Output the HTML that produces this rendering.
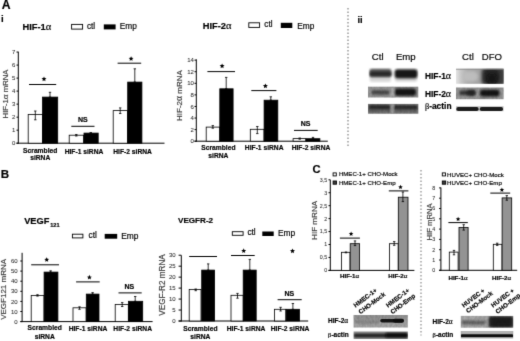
<!DOCTYPE html>
<html><head><meta charset="utf-8"><style>
html,body{margin:0;padding:0;background:#fff;}
body{width:520px;height:341px;overflow:hidden;}
svg{display:block;font-family:"Liberation Sans", sans-serif;will-change:transform;-webkit-font-smoothing:antialiased;}
text{stroke-width:0.18px;paint-order:stroke;}
</style></head><body>
<svg width="520" height="341" viewBox="0 0 520 341" xmlns="http://www.w3.org/2000/svg">
<defs><filter id="b0" x="-30%" y="-60%" width="160%" height="220%"><feGaussianBlur stdDeviation="0.5"/></filter><filter id="b1" x="-30%" y="-60%" width="160%" height="220%"><feGaussianBlur stdDeviation="0.8"/></filter><filter id="b2" x="-30%" y="-60%" width="160%" height="220%"><feGaussianBlur stdDeviation="1.2"/></filter><filter id="b3" x="-30%" y="-60%" width="160%" height="220%"><feGaussianBlur stdDeviation="1.8"/></filter><filter id="b4" x="-30%" y="-60%" width="160%" height="220%"><feGaussianBlur stdDeviation="2.5"/></filter><filter id="nz" x="0" y="0" width="100%" height="100%"><feTurbulence type="fractalNoise" baseFrequency="0.5 0.3" numOctaves="2" seed="3" result="n"/><feColorMatrix in="n" type="matrix" values="0 0 0 0 0  0 0 0 0 0  0 0 0 0 0  0 0 0 0.22 0" result="a"/><feComposite in="a" in2="SourceGraphic" operator="in"/></filter></defs>
<filter id="soft" color-interpolation-filters="sRGB" filterUnits="userSpaceOnUse" x="0" y="0" width="520" height="341"><feConvolveMatrix order="3" kernelMatrix="0.0114 0.084 0.0114 0.084 0.618 0.084 0.0114 0.084 0.0114" edgeMode="duplicate"/></filter>
<rect width="520" height="341" fill="#fff"/>
<g filter="url(#soft)">
<text x="1.7" y="8.6" font-size="12.2" font-weight="bold" text-anchor="start" fill="#000" stroke="#000" >A</text>
<text x="0.9" y="21.7" font-size="9.6" font-weight="bold" text-anchor="start" fill="#000" stroke="#000" >i</text>
<text x="357.4" y="22.9" font-size="9.3" font-weight="bold" text-anchor="start" fill="#000" stroke="#000" >ii</text>
<text x="0.7" y="178.3" font-size="11.6" font-weight="bold" text-anchor="start" fill="#000" stroke="#000" >B</text>
<text x="312.6" y="172.9" font-size="11.2" font-weight="bold" text-anchor="start" fill="#000" stroke="#000" >C</text>
<line x1="348" y1="8.0" x2="348" y2="147.0" stroke="#808080" stroke-width="1.2" stroke-dasharray="1.5 2"/>
<line x1="421.0" y1="170" x2="421.0" y2="335.5" stroke="#8a8a8a" stroke-width="1.2" stroke-dasharray="1.5 2"/>
<text x="22.5" y="29.6" font-size="9.3" font-weight="bold" text-anchor="start" fill="#000" stroke="#000" >HIF-1<tspan font-weight="normal" font-size="10.5"><tspan font-family="Liberation Serif">&#945;</tspan></tspan></text>
<rect x="71.6" y="24.4" width="11" height="4.7" fill="#fff" stroke="#000" stroke-width="0.9" />
<text x="87" y="28.6" font-size="8.2" font-weight="normal" text-anchor="start" fill="#000" stroke="#000" >ctl</text>
<rect x="103.8" y="24.4" width="11.8" height="5.0" fill="#000" />
<text x="119.7" y="29.4" font-size="8.3" font-weight="normal" text-anchor="start" fill="#000" stroke="#000" >Emp</text>
<line x1="18.3" y1="51.7" x2="18.3" y2="143.7" stroke="#000" stroke-width="1.0" />
<line x1="16.5" y1="143.2" x2="164.5" y2="143.2" stroke="#000" stroke-width="1.0" />
<line x1="16.5" y1="143.2" x2="18.3" y2="143.2" stroke="#000" stroke-width="1.0" />
<text x="15.3" y="145.35999999999999" font-size="6.0" font-weight="normal" text-anchor="end" fill="#2a2a2a" stroke="#2a2a2a" style="stroke-width:0.06px">0</text>
<line x1="16.5" y1="130.17999999999998" x2="18.3" y2="130.17999999999998" stroke="#000" stroke-width="1.0" />
<text x="15.3" y="132.33999999999997" font-size="6.0" font-weight="normal" text-anchor="end" fill="#2a2a2a" stroke="#2a2a2a" style="stroke-width:0.06px">1</text>
<line x1="16.5" y1="117.16" x2="18.3" y2="117.16" stroke="#000" stroke-width="1.0" />
<text x="15.3" y="119.32" font-size="6.0" font-weight="normal" text-anchor="end" fill="#2a2a2a" stroke="#2a2a2a" style="stroke-width:0.06px">2</text>
<line x1="16.5" y1="104.13999999999999" x2="18.3" y2="104.13999999999999" stroke="#000" stroke-width="1.0" />
<text x="15.3" y="106.29999999999998" font-size="6.0" font-weight="normal" text-anchor="end" fill="#2a2a2a" stroke="#2a2a2a" style="stroke-width:0.06px">3</text>
<line x1="16.5" y1="91.11999999999999" x2="18.3" y2="91.11999999999999" stroke="#000" stroke-width="1.0" />
<text x="15.3" y="93.27999999999999" font-size="6.0" font-weight="normal" text-anchor="end" fill="#2a2a2a" stroke="#2a2a2a" style="stroke-width:0.06px">4</text>
<line x1="16.5" y1="78.1" x2="18.3" y2="78.1" stroke="#000" stroke-width="1.0" />
<text x="15.3" y="80.25999999999999" font-size="6.0" font-weight="normal" text-anchor="end" fill="#2a2a2a" stroke="#2a2a2a" style="stroke-width:0.06px">5</text>
<line x1="16.5" y1="65.07999999999998" x2="18.3" y2="65.07999999999998" stroke="#000" stroke-width="1.0" />
<text x="15.3" y="67.23999999999998" font-size="6.0" font-weight="normal" text-anchor="end" fill="#2a2a2a" stroke="#2a2a2a" style="stroke-width:0.06px">6</text>
<line x1="16.5" y1="52.05999999999999" x2="18.3" y2="52.05999999999999" stroke="#000" stroke-width="1.0" />
<text x="15.3" y="54.219999999999985" font-size="6.0" font-weight="normal" text-anchor="end" fill="#2a2a2a" stroke="#2a2a2a" style="stroke-width:0.06px">7</text>
<text x="0" y="0" font-size="7.7" fill="#3a3a3a" stroke="#3a3a3a" text-anchor="middle" transform="translate(5.0,94.0) rotate(-90)" dominant-baseline="central">HIF-1<tspan font-size="9.2"><tspan font-family="Liberation Serif">&#945;</tspan></tspan> mRNA</text>
<rect x="28.2" y="114.5" width="14.3" height="28.69999999999999" fill="#fff" stroke="#000" stroke-width="0.8" />
<line x1="35.3" y1="111.0" x2="35.3" y2="119.8" stroke="#000" stroke-width="0.8" />
<line x1="34.099999999999994" y1="111.0" x2="36.5" y2="111.0" stroke="#000" stroke-width="0.8" />
<line x1="34.099999999999994" y1="119.8" x2="36.5" y2="119.8" stroke="#000" stroke-width="0.8" />
<rect x="42.5" y="97.1" width="15.200000000000003" height="46.099999999999994" fill="#000" stroke="#000" stroke-width="0.8" />
<line x1="50.0" y1="92.3" x2="50.0" y2="97.1" stroke="#000" stroke-width="0.8" />
<line x1="48.8" y1="92.3" x2="51.2" y2="92.3" stroke="#000" stroke-width="0.8" />
<line x1="48.8" y1="97.1" x2="51.2" y2="97.1" stroke="#000" stroke-width="0.8" />
<rect x="69.2" y="135.2" width="14.399999999999991" height="8.0" fill="#fff" stroke="#000" stroke-width="0.8" />
<line x1="76.3" y1="134.5" x2="76.3" y2="136" stroke="#000" stroke-width="0.8" />
<line x1="75.1" y1="134.5" x2="77.5" y2="134.5" stroke="#000" stroke-width="0.8" />
<line x1="75.1" y1="136" x2="77.5" y2="136" stroke="#000" stroke-width="0.8" />
<rect x="84.0" y="133.1" width="14.200000000000003" height="10.099999999999994" fill="#000" stroke="#000" stroke-width="0.8" />
<line x1="90.8" y1="132.6" x2="90.8" y2="133.1" stroke="#000" stroke-width="0.8" />
<line x1="89.6" y1="132.6" x2="92.0" y2="132.6" stroke="#000" stroke-width="0.8" />
<line x1="89.6" y1="133.1" x2="92.0" y2="133.1" stroke="#000" stroke-width="0.8" />
<rect x="113.2" y="110.6" width="14.299999999999997" height="32.599999999999994" fill="#fff" stroke="#000" stroke-width="0.8" />
<line x1="120.2" y1="107.9" x2="120.2" y2="113.5" stroke="#000" stroke-width="0.8" />
<line x1="119.0" y1="107.9" x2="121.4" y2="107.9" stroke="#000" stroke-width="0.8" />
<line x1="119.0" y1="113.5" x2="121.4" y2="113.5" stroke="#000" stroke-width="0.8" />
<rect x="127.7" y="82.1" width="14.200000000000003" height="61.099999999999994" fill="#000" stroke="#000" stroke-width="0.8" />
<line x1="134.8" y1="68.8" x2="134.8" y2="82.1" stroke="#000" stroke-width="0.8" />
<line x1="133.60000000000002" y1="68.8" x2="136.0" y2="68.8" stroke="#000" stroke-width="0.8" />
<line x1="133.60000000000002" y1="82.1" x2="136.0" y2="82.1" stroke="#000" stroke-width="0.8" />
<line x1="29" y1="84.5" x2="56.2" y2="84.5" stroke="#000" stroke-width="1.0" />
<polygon points="44.00,76.46 44.69,78.11 46.46,78.25 45.11,79.41 45.52,81.15 44.00,80.22 42.48,81.15 42.89,79.41 41.54,78.25 43.31,78.11" fill="#000"/>
<line x1="71.3" y1="126.3" x2="94.5" y2="126.3" stroke="#000" stroke-width="1.0" />
<text x="82.8" y="121.808" font-size="7.0" font-weight="bold" text-anchor="middle" fill="#000" stroke="#000" >NS</text>
<line x1="117.6" y1="63.2" x2="141.2" y2="63.2" stroke="#000" stroke-width="1.0" />
<polygon points="131.10,56.16 131.79,57.81 133.56,57.95 132.21,59.11 132.62,60.85 131.10,59.92 129.58,60.85 129.99,59.11 128.64,57.95 130.41,57.81" fill="#000"/>
<text x="40.2" y="152.6" font-size="6.7" font-weight="bold" text-anchor="middle" fill="#000" stroke="#000" >Scrambled</text>
<text x="40.2" y="160.2" font-size="6.7" font-weight="bold" text-anchor="middle" fill="#000" stroke="#000" >siRNA</text>
<text x="84.0" y="154.0" font-size="6.7" font-weight="bold" text-anchor="middle" fill="#000" stroke="#000" >HIF-1 siRNA</text>
<text x="132.6" y="154.0" font-size="6.7" font-weight="bold" text-anchor="middle" fill="#000" stroke="#000" >HIF-2 siRNA</text>
<text x="202.8" y="29.4" font-size="9.3" font-weight="bold" text-anchor="start" fill="#000" stroke="#000" >HIF-2<tspan font-weight="normal" font-size="10.5"><tspan font-family="Liberation Serif">&#945;</tspan></tspan></text>
<rect x="248.8" y="22.8" width="10.8" height="4.6" fill="#fff" stroke="#000" stroke-width="0.9" />
<text x="264.3" y="26.9" font-size="8.2" font-weight="normal" text-anchor="start" fill="#000" stroke="#000" >ctl</text>
<rect x="280.8" y="22.8" width="11.5" height="5.2" fill="#000" />
<text x="297.2" y="28.5" font-size="8.3" font-weight="normal" text-anchor="start" fill="#000" stroke="#000" >Emp</text>
<line x1="196.3" y1="59.3" x2="196.3" y2="141.7" stroke="#000" stroke-width="1.0" />
<line x1="194.5" y1="141.2" x2="327.8" y2="141.2" stroke="#000" stroke-width="1.0" />
<line x1="194.5" y1="141.2" x2="196.3" y2="141.2" stroke="#000" stroke-width="1.0" />
<text x="193.9" y="143.35999999999999" font-size="6.0" font-weight="normal" text-anchor="end" fill="#2a2a2a" stroke="#2a2a2a" style="stroke-width:0.06px">0</text>
<line x1="194.5" y1="129.61999999999998" x2="196.3" y2="129.61999999999998" stroke="#000" stroke-width="1.0" />
<text x="193.9" y="131.77999999999997" font-size="6.0" font-weight="normal" text-anchor="end" fill="#2a2a2a" stroke="#2a2a2a" style="stroke-width:0.06px">2</text>
<line x1="194.5" y1="118.03999999999999" x2="196.3" y2="118.03999999999999" stroke="#000" stroke-width="1.0" />
<text x="193.9" y="120.19999999999999" font-size="6.0" font-weight="normal" text-anchor="end" fill="#2a2a2a" stroke="#2a2a2a" style="stroke-width:0.06px">4</text>
<line x1="194.5" y1="106.45999999999998" x2="196.3" y2="106.45999999999998" stroke="#000" stroke-width="1.0" />
<text x="193.9" y="108.61999999999998" font-size="6.0" font-weight="normal" text-anchor="end" fill="#2a2a2a" stroke="#2a2a2a" style="stroke-width:0.06px">6</text>
<line x1="194.5" y1="94.88" x2="196.3" y2="94.88" stroke="#000" stroke-width="1.0" />
<text x="193.9" y="97.03999999999999" font-size="6.0" font-weight="normal" text-anchor="end" fill="#2a2a2a" stroke="#2a2a2a" style="stroke-width:0.06px">8</text>
<line x1="194.5" y1="83.29999999999998" x2="196.3" y2="83.29999999999998" stroke="#000" stroke-width="1.0" />
<text x="193.9" y="85.45999999999998" font-size="6.0" font-weight="normal" text-anchor="end" fill="#2a2a2a" stroke="#2a2a2a" style="stroke-width:0.06px">10</text>
<line x1="194.5" y1="71.71999999999998" x2="196.3" y2="71.71999999999998" stroke="#000" stroke-width="1.0" />
<text x="193.9" y="73.87999999999998" font-size="6.0" font-weight="normal" text-anchor="end" fill="#2a2a2a" stroke="#2a2a2a" style="stroke-width:0.06px">12</text>
<line x1="194.5" y1="60.139999999999986" x2="196.3" y2="60.139999999999986" stroke="#000" stroke-width="1.0" />
<text x="193.9" y="62.29999999999998" font-size="6.0" font-weight="normal" text-anchor="end" fill="#2a2a2a" stroke="#2a2a2a" style="stroke-width:0.06px">14</text>
<text x="0" y="0" font-size="8.0" fill="#3a3a3a" stroke="#3a3a3a" text-anchor="middle" transform="translate(179.0,95.6) rotate(-90)" dominant-baseline="central">HIF-2<tspan font-size="9.5"><tspan font-family="Liberation Serif">&#945;</tspan></tspan> mRNA</text>
<rect x="206.2" y="127.1" width="13.600000000000023" height="14.099999999999994" fill="#fff" stroke="#000" stroke-width="0.8" />
<line x1="212.8" y1="125.6" x2="212.8" y2="128.2" stroke="#000" stroke-width="0.8" />
<line x1="211.60000000000002" y1="125.6" x2="214.0" y2="125.6" stroke="#000" stroke-width="0.8" />
<line x1="211.60000000000002" y1="128.2" x2="214.0" y2="128.2" stroke="#000" stroke-width="0.8" />
<rect x="219.8" y="88.8" width="13.299999999999983" height="52.39999999999999" fill="#000" stroke="#000" stroke-width="0.8" />
<line x1="226.2" y1="77.4" x2="226.2" y2="88.8" stroke="#000" stroke-width="0.8" />
<line x1="225.0" y1="77.4" x2="227.39999999999998" y2="77.4" stroke="#000" stroke-width="0.8" />
<line x1="225.0" y1="88.8" x2="227.39999999999998" y2="88.8" stroke="#000" stroke-width="0.8" />
<rect x="250.3" y="129.3" width="13.699999999999989" height="11.899999999999977" fill="#fff" stroke="#000" stroke-width="0.8" />
<line x1="257.3" y1="126.5" x2="257.3" y2="133.6" stroke="#000" stroke-width="0.8" />
<line x1="256.1" y1="126.5" x2="258.5" y2="126.5" stroke="#000" stroke-width="0.8" />
<line x1="256.1" y1="133.6" x2="258.5" y2="133.6" stroke="#000" stroke-width="0.8" />
<rect x="264.1" y="100.2" width="13.699999999999989" height="40.999999999999986" fill="#000" stroke="#000" stroke-width="0.8" />
<line x1="270.8" y1="96.8" x2="270.8" y2="100.2" stroke="#000" stroke-width="0.8" />
<line x1="269.6" y1="96.8" x2="272.0" y2="96.8" stroke="#000" stroke-width="0.8" />
<line x1="269.6" y1="100.2" x2="272.0" y2="100.2" stroke="#000" stroke-width="0.8" />
<rect x="293.1" y="138.6" width="12.699999999999989" height="2.5999999999999943" fill="#fff" stroke="#000" stroke-width="0.8" />
<line x1="299.7" y1="138.0" x2="299.7" y2="139.2" stroke="#000" stroke-width="0.8" />
<line x1="298.5" y1="138.0" x2="300.9" y2="138.0" stroke="#000" stroke-width="0.8" />
<line x1="298.5" y1="139.2" x2="300.9" y2="139.2" stroke="#000" stroke-width="0.8" />
<rect x="306.0" y="138.7" width="13.899999999999977" height="2.5" fill="#000" stroke="#000" stroke-width="0.8" />
<line x1="313.0" y1="137.4" x2="313.0" y2="138.7" stroke="#000" stroke-width="0.8" />
<line x1="311.8" y1="137.4" x2="314.2" y2="137.4" stroke="#000" stroke-width="0.8" />
<line x1="311.8" y1="138.7" x2="314.2" y2="138.7" stroke="#000" stroke-width="0.8" />
<line x1="207.4" y1="71.6" x2="235.0" y2="71.6" stroke="#000" stroke-width="1.0" />
<polygon points="222.10,63.46 222.79,65.11 224.56,65.25 223.21,66.41 223.62,68.15 222.10,67.22 220.58,68.15 220.99,66.41 219.64,65.25 221.41,65.11" fill="#000"/>
<line x1="251.3" y1="90.6" x2="276.4" y2="90.6" stroke="#000" stroke-width="1.0" />
<polygon points="265.40,83.46 266.09,85.11 267.86,85.25 266.51,86.41 266.92,88.15 265.40,87.22 263.88,88.15 264.29,86.41 262.94,85.25 264.71,85.11" fill="#000"/>
<line x1="294.0" y1="130.4" x2="317.7" y2="130.4" stroke="#000" stroke-width="1.0" />
<text x="305.5" y="125.508" font-size="7.0" font-weight="bold" text-anchor="middle" fill="#000" stroke="#000" >NS</text>
<text x="218.4" y="150.2" font-size="6.7" font-weight="bold" text-anchor="middle" fill="#000" stroke="#000" >Scrambled</text>
<text x="218.4" y="158.4" font-size="6.7" font-weight="bold" text-anchor="middle" fill="#000" stroke="#000" >siRNA</text>
<text x="264.2" y="150.2" font-size="6.7" font-weight="bold" text-anchor="middle" fill="#000" stroke="#000" >HIF-1 siRNA</text>
<text x="311.0" y="150.2" font-size="6.7" font-weight="bold" text-anchor="middle" fill="#000" stroke="#000" >HIF-2 siRNA</text>
<text x="24.2" y="224.1" font-size="9.25" font-weight="bold" text-anchor="start" fill="#000" stroke="#000" >VEGF<tspan font-size="5.6" dx="0.8" dy="3.1">121</tspan></text>
<rect x="72.4" y="234.2" width="10.5" height="3.7" fill="#fff" stroke="#000" stroke-width="0.9" />
<text x="88.5" y="238.0" font-size="8.3" font-weight="normal" text-anchor="start" fill="#000" stroke="#000" >ctl</text>
<rect x="104.7" y="233.9" width="12.5" height="4.8" fill="#000" />
<text x="121.2" y="238.6" font-size="8.4" font-weight="normal" text-anchor="start" fill="#000" stroke="#000" >Emp</text>
<line x1="22.1" y1="252.8" x2="22.1" y2="322.1" stroke="#000" stroke-width="1.0" />
<line x1="20.3" y1="321.6" x2="152.6" y2="321.6" stroke="#000" stroke-width="1.0" />
<line x1="20.3" y1="321.6" x2="22.1" y2="321.6" stroke="#000" stroke-width="1.0" />
<text x="17.700000000000003" y="323.76000000000005" font-size="6.0" font-weight="normal" text-anchor="end" fill="#2a2a2a" stroke="#2a2a2a" style="stroke-width:0.06px">0</text>
<line x1="20.3" y1="311.5" x2="22.1" y2="311.5" stroke="#000" stroke-width="1.0" />
<text x="17.700000000000003" y="313.66" font-size="6.0" font-weight="normal" text-anchor="end" fill="#2a2a2a" stroke="#2a2a2a" style="stroke-width:0.06px">10</text>
<line x1="20.3" y1="301.40000000000003" x2="22.1" y2="301.40000000000003" stroke="#000" stroke-width="1.0" />
<text x="17.700000000000003" y="303.56000000000006" font-size="6.0" font-weight="normal" text-anchor="end" fill="#2a2a2a" stroke="#2a2a2a" style="stroke-width:0.06px">20</text>
<line x1="20.3" y1="291.3" x2="22.1" y2="291.3" stroke="#000" stroke-width="1.0" />
<text x="17.700000000000003" y="293.46000000000004" font-size="6.0" font-weight="normal" text-anchor="end" fill="#2a2a2a" stroke="#2a2a2a" style="stroke-width:0.06px">30</text>
<line x1="20.3" y1="281.20000000000005" x2="22.1" y2="281.20000000000005" stroke="#000" stroke-width="1.0" />
<text x="17.700000000000003" y="283.36000000000007" font-size="6.0" font-weight="normal" text-anchor="end" fill="#2a2a2a" stroke="#2a2a2a" style="stroke-width:0.06px">40</text>
<line x1="20.3" y1="271.1" x2="22.1" y2="271.1" stroke="#000" stroke-width="1.0" />
<text x="17.700000000000003" y="273.26000000000005" font-size="6.0" font-weight="normal" text-anchor="end" fill="#2a2a2a" stroke="#2a2a2a" style="stroke-width:0.06px">50</text>
<line x1="20.3" y1="261.0" x2="22.1" y2="261.0" stroke="#000" stroke-width="1.0" />
<text x="17.700000000000003" y="263.16" font-size="6.0" font-weight="normal" text-anchor="end" fill="#2a2a2a" stroke="#2a2a2a" style="stroke-width:0.06px">60</text>
<text x="0" y="0" font-size="8.0" fill="#3a3a3a" stroke="#3a3a3a" text-anchor="middle" transform="translate(3.4,289.4) rotate(-90)" dominant-baseline="central">VEGF121 mRNA</text>
<rect x="31.2" y="295.4" width="12.8" height="26.200000000000045" fill="#fff" stroke="#000" stroke-width="0.8" />
<line x1="37.5" y1="294.7" x2="37.5" y2="296.1" stroke="#000" stroke-width="0.8" />
<line x1="36.3" y1="294.7" x2="38.7" y2="294.7" stroke="#000" stroke-width="0.8" />
<line x1="36.3" y1="296.1" x2="38.7" y2="296.1" stroke="#000" stroke-width="0.8" />
<rect x="44.1" y="272.1" width="13.799999999999997" height="49.5" fill="#000" stroke="#000" stroke-width="0.8" />
<line x1="50.6" y1="270.8" x2="50.6" y2="272.1" stroke="#000" stroke-width="0.8" />
<line x1="49.4" y1="270.8" x2="51.800000000000004" y2="270.8" stroke="#000" stroke-width="0.8" />
<line x1="49.4" y1="272.1" x2="51.800000000000004" y2="272.1" stroke="#000" stroke-width="0.8" />
<rect x="73.0" y="307.8" width="13.099999999999994" height="13.800000000000011" fill="#fff" stroke="#000" stroke-width="0.8" />
<line x1="79.5" y1="306.8" x2="79.5" y2="309.3" stroke="#000" stroke-width="0.8" />
<line x1="78.3" y1="306.8" x2="80.7" y2="306.8" stroke="#000" stroke-width="0.8" />
<line x1="78.3" y1="309.3" x2="80.7" y2="309.3" stroke="#000" stroke-width="0.8" />
<rect x="86.3" y="294.1" width="12.700000000000003" height="27.5" fill="#000" stroke="#000" stroke-width="0.8" />
<line x1="92.6" y1="292.6" x2="92.6" y2="294.1" stroke="#000" stroke-width="0.8" />
<line x1="91.39999999999999" y1="292.6" x2="93.8" y2="292.6" stroke="#000" stroke-width="0.8" />
<line x1="91.39999999999999" y1="294.1" x2="93.8" y2="294.1" stroke="#000" stroke-width="0.8" />
<rect x="115.2" y="304.5" width="13.100000000000009" height="17.100000000000023" fill="#fff" stroke="#000" stroke-width="0.8" />
<line x1="122.2" y1="302.6" x2="122.2" y2="306.5" stroke="#000" stroke-width="0.8" />
<line x1="121.0" y1="302.6" x2="123.4" y2="302.6" stroke="#000" stroke-width="0.8" />
<line x1="121.0" y1="306.5" x2="123.4" y2="306.5" stroke="#000" stroke-width="0.8" />
<rect x="128.5" y="301.3" width="14.199999999999989" height="20.30000000000001" fill="#000" stroke="#000" stroke-width="0.8" />
<line x1="135.2" y1="296.5" x2="135.2" y2="301.3" stroke="#000" stroke-width="0.8" />
<line x1="134.0" y1="296.5" x2="136.39999999999998" y2="296.5" stroke="#000" stroke-width="0.8" />
<line x1="134.0" y1="301.3" x2="136.39999999999998" y2="301.3" stroke="#000" stroke-width="0.8" />
<line x1="31.2" y1="264.8" x2="59.0" y2="264.8" stroke="#000" stroke-width="1.0" />
<polygon points="46.70,257.16 47.39,258.81 49.16,258.95 47.81,260.11 48.22,261.85 46.70,260.92 45.18,261.85 45.59,260.11 44.24,258.95 46.01,258.81" fill="#000"/>
<line x1="76.1" y1="281.9" x2="99.7" y2="281.9" stroke="#000" stroke-width="1.0" />
<polygon points="89.40,274.86 90.09,276.51 91.86,276.65 90.51,277.81 90.92,279.55 89.40,278.62 87.88,279.55 88.29,277.81 86.94,276.65 88.71,276.51" fill="#000"/>
<line x1="118.5" y1="292.9" x2="141.7" y2="292.9" stroke="#000" stroke-width="1.0" />
<text x="129.4" y="289.108" font-size="7.0" font-weight="bold" text-anchor="middle" fill="#000" stroke="#000" >NS</text>
<text x="44.7" y="330.4" font-size="6.7" font-weight="bold" text-anchor="middle" fill="#000" stroke="#000" >Scrambled</text>
<text x="44.7" y="338.6" font-size="6.7" font-weight="bold" text-anchor="middle" fill="#000" stroke="#000" >siRNA</text>
<text x="88.0" y="331.2" font-size="6.7" font-weight="bold" text-anchor="middle" fill="#000" stroke="#000" >HIF-1 siRNA</text>
<text x="132.7" y="331.2" font-size="6.7" font-weight="bold" text-anchor="middle" fill="#000" stroke="#000" >HIF-2 siRNA</text>
<text x="178" y="223.0" font-size="8.1" font-weight="bold" text-anchor="start" fill="#000" stroke="#000" >VEGFR-2</text>
<rect x="232.3" y="231.7" width="10.8" height="3.6" fill="#fff" stroke="#000" stroke-width="0.9" />
<text x="247.4" y="234.8" font-size="8.3" font-weight="normal" text-anchor="start" fill="#000" stroke="#000" >ctl</text>
<rect x="262.3" y="231.5" width="11.4" height="4.5" fill="#000" />
<text x="277.9" y="236.0" font-size="8.4" font-weight="normal" text-anchor="start" fill="#000" stroke="#000" >Emp</text>
<line x1="181.3" y1="255.3" x2="181.3" y2="321.5" stroke="#000" stroke-width="1.0" />
<line x1="178.60000000000002" y1="321.0" x2="308.2" y2="321.0" stroke="#000" stroke-width="1.0" />
<line x1="178.60000000000002" y1="321.0" x2="181.3" y2="321.0" stroke="#000" stroke-width="1.0" />
<text x="175.70000000000002" y="323.16" font-size="6.0" font-weight="normal" text-anchor="end" fill="#2a2a2a" stroke="#2a2a2a" style="stroke-width:0.06px">0</text>
<line x1="178.60000000000002" y1="310.035" x2="181.3" y2="310.035" stroke="#000" stroke-width="1.0" />
<text x="175.70000000000002" y="312.19500000000005" font-size="6.0" font-weight="normal" text-anchor="end" fill="#2a2a2a" stroke="#2a2a2a" style="stroke-width:0.06px">5</text>
<line x1="178.60000000000002" y1="299.07" x2="181.3" y2="299.07" stroke="#000" stroke-width="1.0" />
<text x="175.70000000000002" y="301.23" font-size="6.0" font-weight="normal" text-anchor="end" fill="#2a2a2a" stroke="#2a2a2a" style="stroke-width:0.06px">10</text>
<line x1="178.60000000000002" y1="288.105" x2="181.3" y2="288.105" stroke="#000" stroke-width="1.0" />
<text x="175.70000000000002" y="290.26500000000004" font-size="6.0" font-weight="normal" text-anchor="end" fill="#2a2a2a" stroke="#2a2a2a" style="stroke-width:0.06px">15</text>
<line x1="178.60000000000002" y1="277.14" x2="181.3" y2="277.14" stroke="#000" stroke-width="1.0" />
<text x="175.70000000000002" y="279.3" font-size="6.0" font-weight="normal" text-anchor="end" fill="#2a2a2a" stroke="#2a2a2a" style="stroke-width:0.06px">20</text>
<line x1="178.60000000000002" y1="266.175" x2="181.3" y2="266.175" stroke="#000" stroke-width="1.0" />
<text x="175.70000000000002" y="268.33500000000004" font-size="6.0" font-weight="normal" text-anchor="end" fill="#2a2a2a" stroke="#2a2a2a" style="stroke-width:0.06px">25</text>
<line x1="178.60000000000002" y1="255.20999999999998" x2="181.3" y2="255.20999999999998" stroke="#000" stroke-width="1.0" />
<text x="175.70000000000002" y="257.37" font-size="6.0" font-weight="normal" text-anchor="end" fill="#2a2a2a" stroke="#2a2a2a" style="stroke-width:0.06px">30</text>
<text x="0" y="0" font-size="8.15" fill="#3a3a3a" stroke="#3a3a3a" text-anchor="middle" transform="translate(162.6,285.0) rotate(-90)" dominant-baseline="central">VEGF-R2 mRNA</text>
<rect x="189.2" y="289.4" width="11.800000000000011" height="31.600000000000023" fill="#fff" stroke="#000" stroke-width="0.8" />
<line x1="195.7" y1="289.0" x2="195.7" y2="290.7" stroke="#000" stroke-width="0.8" />
<line x1="194.5" y1="289.0" x2="196.89999999999998" y2="289.0" stroke="#000" stroke-width="0.8" />
<line x1="194.5" y1="290.7" x2="196.89999999999998" y2="290.7" stroke="#000" stroke-width="0.8" />
<rect x="201.7" y="270.1" width="12.900000000000006" height="50.89999999999998" fill="#000" stroke="#000" stroke-width="0.8" />
<line x1="208.2" y1="263.9" x2="208.2" y2="270.1" stroke="#000" stroke-width="0.8" />
<line x1="207.0" y1="263.9" x2="209.39999999999998" y2="263.9" stroke="#000" stroke-width="0.8" />
<line x1="207.0" y1="270.1" x2="209.39999999999998" y2="270.1" stroke="#000" stroke-width="0.8" />
<rect x="231.0" y="295.3" width="12.199999999999989" height="25.69999999999999" fill="#fff" stroke="#000" stroke-width="0.8" />
<line x1="237.5" y1="293.4" x2="237.5" y2="298.2" stroke="#000" stroke-width="0.8" />
<line x1="236.3" y1="293.4" x2="238.7" y2="293.4" stroke="#000" stroke-width="0.8" />
<line x1="236.3" y1="298.2" x2="238.7" y2="298.2" stroke="#000" stroke-width="0.8" />
<rect x="243.2" y="270.1" width="13.0" height="50.89999999999998" fill="#000" stroke="#000" stroke-width="0.8" />
<line x1="249.8" y1="259.4" x2="249.8" y2="270.1" stroke="#000" stroke-width="0.8" />
<line x1="248.60000000000002" y1="259.4" x2="251.0" y2="259.4" stroke="#000" stroke-width="0.8" />
<line x1="248.60000000000002" y1="270.1" x2="251.0" y2="270.1" stroke="#000" stroke-width="0.8" />
<rect x="274.5" y="309.3" width="11.300000000000011" height="11.699999999999989" fill="#fff" stroke="#000" stroke-width="0.8" />
<line x1="280.6" y1="307.3" x2="280.6" y2="311.0" stroke="#000" stroke-width="0.8" />
<line x1="279.40000000000003" y1="307.3" x2="281.8" y2="307.3" stroke="#000" stroke-width="0.8" />
<line x1="279.40000000000003" y1="311.0" x2="281.8" y2="311.0" stroke="#000" stroke-width="0.8" />
<rect x="286.1" y="309.3" width="13.399999999999977" height="11.699999999999989" fill="#000" stroke="#000" stroke-width="0.8" />
<line x1="292.9" y1="303.5" x2="292.9" y2="309.3" stroke="#000" stroke-width="0.8" />
<line x1="291.7" y1="303.5" x2="294.09999999999997" y2="303.5" stroke="#000" stroke-width="0.8" />
<line x1="291.7" y1="309.3" x2="294.09999999999997" y2="309.3" stroke="#000" stroke-width="0.8" />
<line x1="189.2" y1="256.5" x2="217" y2="256.5" stroke="#000" stroke-width="1.0" />
<line x1="231.0" y1="255.5" x2="254.7" y2="255.5" stroke="#000" stroke-width="1.0" />
<polygon points="243.70,248.26 244.39,249.91 246.16,250.05 244.81,251.21 245.22,252.95 243.70,252.02 242.18,252.95 242.59,251.21 241.24,250.05 243.01,249.91" fill="#000"/>
<polygon points="292.50,248.46 293.19,250.11 294.96,250.25 293.61,251.41 294.02,253.15 292.50,252.22 290.98,253.15 291.39,251.41 290.04,250.25 291.81,250.11" fill="#000"/>
<line x1="277.6" y1="299.7" x2="301.7" y2="299.7" stroke="#000" stroke-width="1.0" />
<text x="289.3" y="295.908" font-size="7.0" font-weight="bold" text-anchor="middle" fill="#000" stroke="#000" >NS</text>
<text x="200.4" y="330.8" font-size="6.7" font-weight="bold" text-anchor="middle" fill="#000" stroke="#000" >Scrambled</text>
<text x="200.4" y="338.8" font-size="6.7" font-weight="bold" text-anchor="middle" fill="#000" stroke="#000" >siRNA</text>
<text x="246.1" y="330.8" font-size="6.7" font-weight="bold" text-anchor="middle" fill="#000" stroke="#000" >HIF-1 siRNA</text>
<text x="290.1" y="330.8" font-size="6.7" font-weight="bold" text-anchor="middle" fill="#000" stroke="#000" >HIF-2 siRNA</text>
<rect x="333.1" y="172.9" width="3.2" height="3.0" fill="#fff" stroke="#000" stroke-width="0.9" />
<text x="338.9" y="176.2" font-size="6.1" font-weight="normal" text-anchor="start" fill="#000" stroke="#000" >HMEC-1+ CHO-Mock</text>
<rect x="333.1" y="181.0" width="3.4" height="3.2" fill="#3c3c3c" stroke="#000" stroke-width="0.9" />
<text x="338.9" y="185.2" font-size="6.1" font-weight="normal" text-anchor="start" fill="#000" stroke="#000" >HMEC-1+ CHO-Emp</text>
<line x1="330.3" y1="179.8" x2="330.3" y2="270.9" stroke="#000" stroke-width="1.0" />
<line x1="328.5" y1="270.4" x2="414.4" y2="270.4" stroke="#000" stroke-width="1.0" />
<line x1="328.5" y1="270.4" x2="330.3" y2="270.4" stroke="#000" stroke-width="1.0" />
<text x="327.1" y="272.308" font-size="5.3" font-weight="normal" text-anchor="end" fill="#2a2a2a" stroke="#2a2a2a" style="stroke-width:0.06px">0</text>
<line x1="328.5" y1="257.455" x2="330.3" y2="257.455" stroke="#000" stroke-width="1.0" />
<text x="327.1" y="259.363" font-size="5.3" font-weight="normal" text-anchor="end" fill="#2a2a2a" stroke="#2a2a2a" style="stroke-width:0.06px">0,5</text>
<line x1="328.5" y1="244.51" x2="330.3" y2="244.51" stroke="#000" stroke-width="1.0" />
<text x="327.1" y="246.41799999999998" font-size="5.3" font-weight="normal" text-anchor="end" fill="#2a2a2a" stroke="#2a2a2a" style="stroke-width:0.06px">1</text>
<line x1="328.5" y1="231.56499999999997" x2="330.3" y2="231.56499999999997" stroke="#000" stroke-width="1.0" />
<text x="327.1" y="233.47299999999996" font-size="5.3" font-weight="normal" text-anchor="end" fill="#2a2a2a" stroke="#2a2a2a" style="stroke-width:0.06px">1,5</text>
<line x1="328.5" y1="218.61999999999998" x2="330.3" y2="218.61999999999998" stroke="#000" stroke-width="1.0" />
<text x="327.1" y="220.52799999999996" font-size="5.3" font-weight="normal" text-anchor="end" fill="#2a2a2a" stroke="#2a2a2a" style="stroke-width:0.06px">2</text>
<line x1="328.5" y1="205.67499999999998" x2="330.3" y2="205.67499999999998" stroke="#000" stroke-width="1.0" />
<text x="327.1" y="207.58299999999997" font-size="5.3" font-weight="normal" text-anchor="end" fill="#2a2a2a" stroke="#2a2a2a" style="stroke-width:0.06px">2,5</text>
<line x1="328.5" y1="192.72999999999996" x2="330.3" y2="192.72999999999996" stroke="#000" stroke-width="1.0" />
<text x="327.1" y="194.63799999999995" font-size="5.3" font-weight="normal" text-anchor="end" fill="#2a2a2a" stroke="#2a2a2a" style="stroke-width:0.06px">3</text>
<line x1="328.5" y1="179.78499999999997" x2="330.3" y2="179.78499999999997" stroke="#000" stroke-width="1.0" />
<text x="327.1" y="181.69299999999996" font-size="5.3" font-weight="normal" text-anchor="end" fill="#2a2a2a" stroke="#2a2a2a" style="stroke-width:0.06px">3,5</text>
<text x="0" y="0" font-size="8.1" fill="#3a3a3a" stroke="#3a3a3a" text-anchor="middle" transform="translate(314.6,220.4) rotate(-90)" dominant-baseline="central">HIF mRNA</text>
<rect x="341.4" y="252.3" width="8.600000000000023" height="18.099999999999966" fill="#fff" stroke="#000" stroke-width="0.8" />
<line x1="346" y1="252.0" x2="346" y2="252.8" stroke="#000" stroke-width="0.8" />
<line x1="344.8" y1="252.0" x2="347.2" y2="252.0" stroke="#000" stroke-width="0.8" />
<line x1="344.8" y1="252.8" x2="347.2" y2="252.8" stroke="#000" stroke-width="0.8" />
<rect x="350.2" y="243.7" width="9.400000000000034" height="26.69999999999999" fill="#939393" stroke="#000" stroke-width="0.8" />
<line x1="355.0" y1="240.9" x2="355.0" y2="245.6" stroke="#000" stroke-width="0.8" />
<line x1="353.8" y1="240.9" x2="356.2" y2="240.9" stroke="#000" stroke-width="0.8" />
<line x1="353.8" y1="245.6" x2="356.2" y2="245.6" stroke="#000" stroke-width="0.8" />
<rect x="389.5" y="243.7" width="8.699999999999989" height="26.69999999999999" fill="#fff" stroke="#000" stroke-width="0.8" />
<line x1="394.2" y1="241.6" x2="394.2" y2="245.3" stroke="#000" stroke-width="0.8" />
<line x1="393.0" y1="241.6" x2="395.4" y2="241.6" stroke="#000" stroke-width="0.8" />
<line x1="393.0" y1="245.3" x2="395.4" y2="245.3" stroke="#000" stroke-width="0.8" />
<rect x="398.3" y="197.2" width="9.699999999999989" height="73.19999999999999" fill="#939393" stroke="#000" stroke-width="0.8" />
<line x1="402.9" y1="192.0" x2="402.9" y2="201.6" stroke="#000" stroke-width="0.8" />
<line x1="401.7" y1="192.0" x2="404.09999999999997" y2="192.0" stroke="#000" stroke-width="0.8" />
<line x1="401.7" y1="201.6" x2="404.09999999999997" y2="201.6" stroke="#000" stroke-width="0.8" />
<line x1="339.9" y1="238.1" x2="359.9" y2="238.1" stroke="#000" stroke-width="1.0" />
<polygon points="351.10,231.55 351.74,233.07 353.39,233.21 352.13,234.28 352.51,235.90 351.10,235.03 349.69,235.90 350.07,234.28 348.81,233.21 350.46,233.07" fill="#000"/>
<line x1="388.8" y1="190.9" x2="408.4" y2="190.9" stroke="#000" stroke-width="1.0" />
<polygon points="400.50,184.75 401.14,186.27 402.79,186.41 401.53,187.48 401.91,189.10 400.50,188.23 399.09,189.10 399.47,187.48 398.21,186.41 399.86,186.27" fill="#000"/>
<text x="349.6" y="277.6" font-size="6.2" font-weight="bold" text-anchor="middle" fill="#000" stroke="#000" >HIF-1<tspan font-weight="normal" font-size="7"><tspan font-family="Liberation Serif">&#945;</tspan></tspan></text>
<text x="397.8" y="277.6" font-size="6.2" font-weight="bold" text-anchor="middle" fill="#000" stroke="#000" >HIF-2<tspan font-weight="normal" font-size="7"><tspan font-family="Liberation Serif">&#945;</tspan></tspan></text>
<rect x="442.3" y="172.9" width="3.2" height="3.0" fill="#fff" stroke="#000" stroke-width="0.9" />
<text x="447.1" y="176.5" font-size="6.1" font-weight="normal" text-anchor="start" fill="#000" stroke="#000" >HUVEC+ CHO-Mock</text>
<rect x="442.3" y="181.0" width="3.4" height="3.2" fill="#3c3c3c" stroke="#000" stroke-width="0.9" />
<text x="447.1" y="184.7" font-size="6.1" font-weight="normal" text-anchor="start" fill="#000" stroke="#000" >HUVEC+ CHO-Emp</text>
<line x1="440.9" y1="187.5" x2="440.9" y2="270.8" stroke="#000" stroke-width="1.0" />
<line x1="439.09999999999997" y1="270.3" x2="517.2" y2="270.3" stroke="#000" stroke-width="1.0" />
<line x1="439.09999999999997" y1="270.3" x2="440.9" y2="270.3" stroke="#000" stroke-width="1.0" />
<text x="435.29999999999995" y="272.208" font-size="5.3" font-weight="normal" text-anchor="end" fill="#2a2a2a" stroke="#2a2a2a" style="stroke-width:0.06px">0</text>
<line x1="439.09999999999997" y1="260.0" x2="440.9" y2="260.0" stroke="#000" stroke-width="1.0" />
<text x="435.29999999999995" y="261.908" font-size="5.3" font-weight="normal" text-anchor="end" fill="#2a2a2a" stroke="#2a2a2a" style="stroke-width:0.06px">1</text>
<line x1="439.09999999999997" y1="249.70000000000002" x2="440.9" y2="249.70000000000002" stroke="#000" stroke-width="1.0" />
<text x="435.29999999999995" y="251.608" font-size="5.3" font-weight="normal" text-anchor="end" fill="#2a2a2a" stroke="#2a2a2a" style="stroke-width:0.06px">2</text>
<line x1="439.09999999999997" y1="239.4" x2="440.9" y2="239.4" stroke="#000" stroke-width="1.0" />
<text x="435.29999999999995" y="241.308" font-size="5.3" font-weight="normal" text-anchor="end" fill="#2a2a2a" stroke="#2a2a2a" style="stroke-width:0.06px">3</text>
<line x1="439.09999999999997" y1="229.10000000000002" x2="440.9" y2="229.10000000000002" stroke="#000" stroke-width="1.0" />
<text x="435.29999999999995" y="231.008" font-size="5.3" font-weight="normal" text-anchor="end" fill="#2a2a2a" stroke="#2a2a2a" style="stroke-width:0.06px">4</text>
<line x1="439.09999999999997" y1="218.8" x2="440.9" y2="218.8" stroke="#000" stroke-width="1.0" />
<text x="435.29999999999995" y="220.708" font-size="5.3" font-weight="normal" text-anchor="end" fill="#2a2a2a" stroke="#2a2a2a" style="stroke-width:0.06px">5</text>
<line x1="439.09999999999997" y1="208.5" x2="440.9" y2="208.5" stroke="#000" stroke-width="1.0" />
<text x="435.29999999999995" y="210.408" font-size="5.3" font-weight="normal" text-anchor="end" fill="#2a2a2a" stroke="#2a2a2a" style="stroke-width:0.06px">6</text>
<line x1="439.09999999999997" y1="198.2" x2="440.9" y2="198.2" stroke="#000" stroke-width="1.0" />
<text x="435.29999999999995" y="200.10799999999998" font-size="5.3" font-weight="normal" text-anchor="end" fill="#2a2a2a" stroke="#2a2a2a" style="stroke-width:0.06px">7</text>
<line x1="439.09999999999997" y1="187.9" x2="440.9" y2="187.9" stroke="#000" stroke-width="1.0" />
<text x="435.29999999999995" y="189.808" font-size="5.3" font-weight="normal" text-anchor="end" fill="#2a2a2a" stroke="#2a2a2a" style="stroke-width:0.06px">8</text>
<text x="0" y="0" font-size="7.7" fill="#3a3a3a" stroke="#3a3a3a" text-anchor="middle" transform="translate(429.2,221.9) rotate(-90)" dominant-baseline="central">HIF mRNA</text>
<rect x="449.3" y="252.1" width="8.800000000000011" height="18.200000000000017" fill="#fff" stroke="#000" stroke-width="0.8" />
<line x1="454.0" y1="250.4" x2="454.0" y2="254.8" stroke="#000" stroke-width="0.8" />
<line x1="452.8" y1="250.4" x2="455.2" y2="250.4" stroke="#000" stroke-width="0.8" />
<line x1="452.8" y1="254.8" x2="455.2" y2="254.8" stroke="#000" stroke-width="0.8" />
<rect x="459.0" y="227.5" width="9.100000000000023" height="42.80000000000001" fill="#939393" stroke="#000" stroke-width="0.8" />
<line x1="463.7" y1="224.7" x2="463.7" y2="230.1" stroke="#000" stroke-width="0.8" />
<line x1="462.5" y1="224.7" x2="464.9" y2="224.7" stroke="#000" stroke-width="0.8" />
<line x1="462.5" y1="230.1" x2="464.9" y2="230.1" stroke="#000" stroke-width="0.8" />
<rect x="493.3" y="244.3" width="8.699999999999989" height="26.0" fill="#fff" stroke="#000" stroke-width="0.8" />
<line x1="497.2" y1="243.2" x2="497.2" y2="245.4" stroke="#000" stroke-width="0.8" />
<line x1="496.0" y1="243.2" x2="498.4" y2="243.2" stroke="#000" stroke-width="0.8" />
<line x1="496.0" y1="245.4" x2="498.4" y2="245.4" stroke="#000" stroke-width="0.8" />
<rect x="502.1" y="197.9" width="9.599999999999966" height="72.4" fill="#939393" stroke="#000" stroke-width="0.8" />
<line x1="506.8" y1="195.6" x2="506.8" y2="200.2" stroke="#000" stroke-width="0.8" />
<line x1="505.6" y1="195.6" x2="508.0" y2="195.6" stroke="#000" stroke-width="0.8" />
<line x1="505.6" y1="200.2" x2="508.0" y2="200.2" stroke="#000" stroke-width="0.8" />
<line x1="448.4" y1="222.6" x2="467.8" y2="222.6" stroke="#000" stroke-width="1.0" />
<polygon points="458.10,216.75 458.74,218.27 460.39,218.41 459.13,219.48 459.51,221.10 458.10,220.23 456.69,221.10 457.07,219.48 455.81,218.41 457.46,218.27" fill="#000"/>
<line x1="490.3" y1="193.1" x2="510.2" y2="193.1" stroke="#000" stroke-width="1.0" />
<polygon points="501.90,187.55 502.54,189.07 504.19,189.21 502.93,190.28 503.31,191.90 501.90,191.03 500.49,191.90 500.87,190.28 499.61,189.21 501.26,189.07" fill="#000"/>
<text x="458.0" y="279.7" font-size="6.2" font-weight="bold" text-anchor="middle" fill="#000" stroke="#000" >HIF-1<tspan font-weight="normal" font-size="7"><tspan font-family="Liberation Serif">&#945;</tspan></tspan></text>
<text x="501.6" y="279.7" font-size="6.2" font-weight="bold" text-anchor="middle" fill="#000" stroke="#000" >HIF-2<tspan font-weight="normal" font-size="7"><tspan font-family="Liberation Serif">&#945;</tspan></tspan></text>
<text x="371.8" y="60.2" font-size="9.6" font-weight="normal" text-anchor="start" fill="#000" stroke="#000" >Ctl</text>
<text x="395.9" y="60.2" font-size="9.6" font-weight="normal" text-anchor="start" fill="#000" stroke="#000" >Emp</text>
<text x="462.1" y="60.2" font-size="9.6" font-weight="normal" text-anchor="start" fill="#000" stroke="#000" >Ctl</text>
<text x="481.8" y="60.2" font-size="9.6" font-weight="normal" text-anchor="start" fill="#000" stroke="#000" >DFO</text>
<text x="424.9" y="78.9" font-size="8.4" font-weight="bold" text-anchor="start" fill="#000" stroke="#000" >HIF-1<tspan font-weight="normal" font-size="10"><tspan font-family="Liberation Serif">&#945;</tspan></tspan></text>
<text x="424.9" y="97.0" font-size="8.4" font-weight="bold" text-anchor="start" fill="#000" stroke="#000" >HIF-2<tspan font-weight="normal" font-size="10"><tspan font-family="Liberation Serif">&#945;</tspan></tspan></text>
<text x="424.9" y="109.2" font-size="8.4" font-weight="bold" text-anchor="start" fill="#000" stroke="#000" ><tspan font-weight="normal"><tspan font-family="Liberation Serif">&#946;</tspan></tspan>-actin</text>
<clipPath id="c1"><rect x="368.5" y="67.5" width="50" height="15.5"/></clipPath><g clip-path="url(#c1)">
<rect x="369.6" y="75.5" width="21.5" height="6.5" rx="2" ry="2" fill="#d8d8d8" fill-opacity="1" filter="url(#b2)"/>
<rect x="394.8" y="76.5" width="22.5" height="5" rx="2" ry="2" fill="#d0d0d0" fill-opacity="1" filter="url(#b2)"/>
<rect x="369.4" y="68.8" width="22.0" height="8.4" rx="2.5" ry="2.5" fill="#5a5a5a" fill-opacity="1" filter="url(#b1)"/>
<rect x="369.8" y="71.6" width="21.5" height="4.4" rx="1.5" ry="1.5" fill="#282828" fill-opacity="1" filter="url(#b1)"/>
<rect x="394.6" y="69.2" width="23.0" height="9.0" rx="3" ry="3" fill="#151515" fill-opacity="1" filter="url(#b1)"/>
</g>
<rect x="368.0" y="86.7" width="50.3" height="10.8" fill="#a2a2a2"/>
<clipPath id="c2"><rect x="368.0" y="86.7" width="50.3" height="10.8"/></clipPath><g clip-path="url(#c2)">
<rect x="371.5" y="90.2" width="18.0" height="4.2" rx="1.5" ry="1.5" fill="#4c4c4c" fill-opacity="1" filter="url(#b1)"/>
<rect x="394.5" y="88.6" width="21.5" height="7.2" rx="3" ry="3" fill="#181818" fill-opacity="1" filter="url(#b2)"/>
<rect x="390.6" y="86.5" width="3.6" height="12" rx="0" ry="0" fill="#b4b4b4" fill-opacity="1" filter="url(#b1)"/>
</g>
<rect x="368.0" y="86.7" width="50.3" height="10.8" fill="#000" filter="url(#nz)"/>
<rect x="368.0" y="103.9" width="50.3" height="9.8" fill="#9a9a9a"/>
<clipPath id="c3"><rect x="368.0" y="103.9" width="50.3" height="9.8"/></clipPath><g clip-path="url(#c3)">
<rect x="368.0" y="108.6" width="50.3" height="4.6" rx="0" ry="0" fill="#707070" fill-opacity="1" filter="url(#b1)"/>
<rect x="368.6" y="104.8" width="22.2" height="4.6" rx="1.2" ry="1.2" fill="#2a2a2a" fill-opacity="1" filter="url(#b1)"/>
<rect x="393.8" y="104.9" width="24.0" height="4.6" rx="1.2" ry="1.2" fill="#2e2e2e" fill-opacity="1" filter="url(#b1)"/>
<rect x="390.8" y="103.5" width="3.0" height="11" rx="0" ry="0" fill="#aaaaaa" fill-opacity="1" filter="url(#b1)"/>
</g>
<rect x="368.0" y="103.9" width="50.3" height="9.8" fill="#000" filter="url(#nz)"/>
<defs><linearGradient id="g1" x1="0" x2="1" y1="0" y2="0"><stop offset="0" stop-color="#e4e4e4"/><stop offset="0.1" stop-color="#c8c8c8"/><stop offset="0.25" stop-color="#aaaaaa"/><stop offset="0.55" stop-color="#a0a0a0"/><stop offset="1" stop-color="#707070"/></linearGradient></defs>
<rect x="456.0" y="68.7" width="47.6" height="15.1" fill="url(#g1)"/>
<clipPath id="c4"><rect x="456.0" y="68.7" width="47.6" height="15.1"/></clipPath><g clip-path="url(#c4)">
<rect x="463" y="71.5" width="15" height="10" rx="5" ry="5" fill="#bdbdbd" fill-opacity="1" filter="url(#b3)"/>
<rect x="481.5" y="68.0" width="23.0" height="17.0" rx="4" ry="4" fill="#3a3a3a" fill-opacity="1" filter="url(#b3)"/>
<rect x="484.0" y="69.5" width="15.5" height="14.5" rx="5" ry="5" fill="#222222" fill-opacity="1" filter="url(#b2)"/>
<rect x="487.5" y="74.0" width="9" height="9" rx="4" ry="4" fill="#151515" fill-opacity="1" filter="url(#b2)"/>
<rect x="456.0" y="68.2" width="47.6" height="1.4" rx="0" ry="0" fill="#888" fill-opacity="1" filter="url(#b0)"/>
</g>
<rect x="456.0" y="87.5" width="47.6" height="11.7" fill="#a0a0a0"/>
<clipPath id="c5"><rect x="456.0" y="87.5" width="47.6" height="11.7"/></clipPath><g clip-path="url(#c5)">
<rect x="459.5" y="90.6" width="15.5" height="4.6" rx="2" ry="2" fill="#3a3a3a" fill-opacity="1" filter="url(#b1)"/>
<rect x="467.0" y="90.2" width="8.5" height="5.2" rx="2" ry="2" fill="#252525" fill-opacity="1" filter="url(#b1)"/>
<rect x="480.0" y="89.8" width="19.5" height="6.6" rx="3" ry="3" fill="#141414" fill-opacity="1" filter="url(#b1)"/>
</g>
<rect x="456.0" y="87.5" width="47.6" height="11.7" fill="#000" filter="url(#nz)"/>
<rect x="456.0" y="106.2" width="47.6" height="5.0" fill="#c4c4c4"/>
<clipPath id="c6"><rect x="456.0" y="106.0" width="47.6" height="5.4"/></clipPath><g clip-path="url(#c6)">
<rect x="456.4" y="107.0" width="22.2" height="4.0" rx="1.8" ry="1.8" fill="#1c1c1c" fill-opacity="1" filter="url(#b0)"/>
<rect x="479.8" y="107.0" width="23.2" height="4.0" rx="1.8" ry="1.8" fill="#1c1c1c" fill-opacity="1" filter="url(#b0)"/>
</g>
<text x="328.1" y="322.8" font-size="6.5" font-weight="bold" text-anchor="start" fill="#000" stroke="#000" >HIF-2<tspan font-weight="normal" font-size="7.4"><tspan font-family="Liberation Serif">&#945;</tspan></tspan></text>
<text x="328.1" y="336.8" font-size="6.5" font-weight="bold" text-anchor="start" fill="#000" stroke="#000" ><tspan font-weight="normal"><tspan font-family="Liberation Serif">&#946;</tspan></tspan>-actin</text>
<rect x="353.6" y="315.0" width="54.2" height="12.5" fill="#b0b0b0"/>
<clipPath id="c7"><rect x="353.6" y="315.0" width="54.2" height="12.5"/></clipPath><g clip-path="url(#c7)">
<rect x="353.6" y="314.5" width="54.2" height="5.0" rx="0" ry="0" fill="#9a9a9a" fill-opacity="1" filter="url(#b1)"/>
<rect x="355" y="320.3" width="24" height="3.2" rx="1.5" ry="1.5" fill="#8c8c8c" fill-opacity="1" filter="url(#b1)"/>
<rect x="380.2" y="318.9" width="23.2" height="3.6" rx="1.8" ry="1.8" fill="#141414" fill-opacity="1" filter="url(#b0)"/>
<rect x="393.0" y="318.7" width="11.0" height="4.0" rx="1.8" ry="1.8" fill="#0c0c0c" fill-opacity="1" filter="url(#b0)"/>
</g>
<rect x="353.6" y="315.0" width="54.2" height="12.5" fill="#000" filter="url(#nz)"/>
<rect x="353.6" y="331.4" width="54.2" height="7.6" fill="#a4a4a4"/>
<clipPath id="c8"><rect x="353.6" y="331.4" width="54.2" height="7.6"/></clipPath><g clip-path="url(#c8)">
<rect x="353.6" y="333.4" width="54.2" height="4.0" rx="1.2" ry="1.2" fill="#1a1a1a" fill-opacity="1" filter="url(#b1)"/>
<rect x="385.6" y="333.0" width="22.2" height="4.6" rx="1.2" ry="1.2" fill="#0e0e0e" fill-opacity="1" filter="url(#b1)"/>
</g>
<text x="432.6" y="324.2" font-size="6.5" font-weight="bold" text-anchor="start" fill="#000" stroke="#000" >HIF-2<tspan font-weight="normal" font-size="7.4"><tspan font-family="Liberation Serif">&#945;</tspan></tspan></text>
<text x="432.6" y="336.8" font-size="6.5" font-weight="bold" text-anchor="start" fill="#000" stroke="#000" ><tspan font-weight="normal"><tspan font-family="Liberation Serif">&#946;</tspan></tspan>-actin</text>
<rect x="460.8" y="315.9" width="52.4" height="11.8" fill="#b4b4b4"/>
<clipPath id="c9"><rect x="460.8" y="315.9" width="52.4" height="11.8"/></clipPath><g clip-path="url(#c9)">
<rect x="461.6" y="320.4" width="24.0" height="4.0" rx="1.5" ry="1.5" fill="#686868" fill-opacity="1" filter="url(#b1)"/>
<rect x="488.6" y="316.2" width="25.0" height="11.6" rx="2" ry="2" fill="#2a2a2a" fill-opacity="1" filter="url(#b1)"/>
<rect x="491.0" y="318.0" width="20.0" height="7.5" rx="2" ry="2" fill="#1a1a1a" fill-opacity="1" filter="url(#b2)"/>
</g>
<rect x="460.8" y="315.9" width="52.4" height="11.8" fill="#000" filter="url(#nz)"/>
<rect x="460.8" y="331.0" width="52.4" height="7.4" fill="#9c9c9c"/>
<clipPath id="c10"><rect x="460.8" y="331.0" width="52.4" height="7.4"/></clipPath><g clip-path="url(#c10)">
<rect x="460.8" y="330.5" width="52.4" height="3.2" rx="0" ry="0" fill="#b8b8b8" fill-opacity="1" filter="url(#b1)"/>
<rect x="460.8" y="334.3" width="52.4" height="2.8" rx="1.2" ry="1.2" fill="#101010" fill-opacity="1" filter="url(#b0)"/>
</g>
<text x="0" y="0" font-size="6.2" font-weight="bold" fill="#000" stroke="#000" transform="translate(355.60,307.80) rotate(-37)">HMEC-1+</text>
<text x="0" y="0" font-size="6.2" font-weight="bold" fill="#000" stroke="#000" transform="translate(360.60,314.30) rotate(-37)">CHO-Mock</text>
<text x="0" y="0" font-size="6.2" font-weight="bold" fill="#000" stroke="#000" transform="translate(388.00,307.80) rotate(-37)">HMEC-1+</text>
<text x="0" y="0" font-size="6.2" font-weight="bold" fill="#000" stroke="#000" transform="translate(392.40,314.30) rotate(-37)">CHO-Emp</text>
<text x="0" y="0" font-size="6.2" font-weight="bold" fill="#000" stroke="#000" transform="translate(463.70,307.70) rotate(-37)">HUVEC +</text>
<text x="0" y="0" font-size="6.2" font-weight="bold" fill="#000" stroke="#000" transform="translate(468.10,313.30) rotate(-37)">CHO-Mock</text>
<text x="0" y="0" font-size="6.2" font-weight="bold" fill="#000" stroke="#000" transform="translate(493.10,307.70) rotate(-37)">HUVEC +</text>
<text x="0" y="0" font-size="6.2" font-weight="bold" fill="#000" stroke="#000" transform="translate(497.50,313.90) rotate(-37)">CHO-Emp</text>
</g>
</svg>
</body></html>
